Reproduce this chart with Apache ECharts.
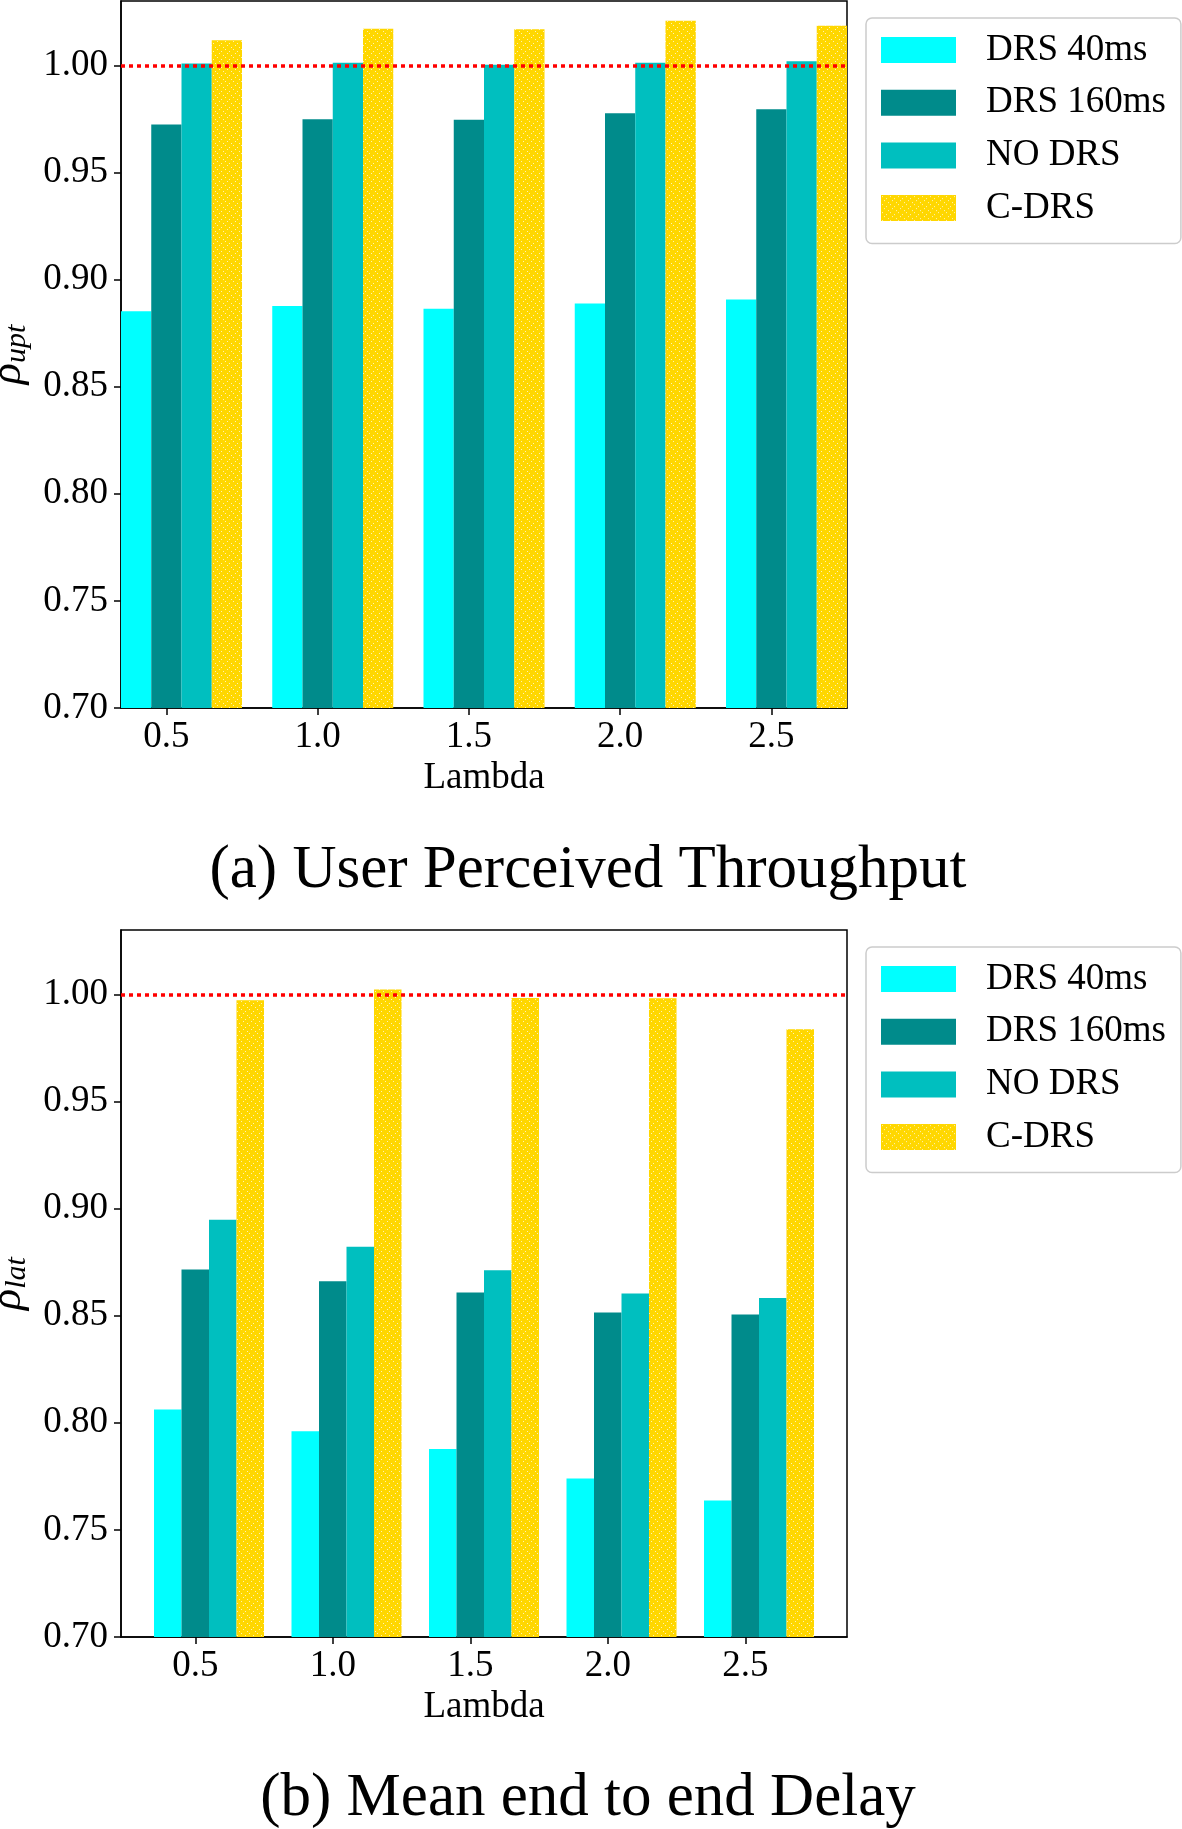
<!DOCTYPE html>
<html>
<head>
<meta charset="utf-8">
<script src="https://cdn.jsdelivr.net/npm/echarts@6/dist/echarts.min.js"></script>
<style>
html,body{margin:0;padding:0;background:#fff;}
#chart{width:1182px;height:1829px;}
</style>
</head>
<body>
<div id="chart"></div>
<script>
// ---- data ----
const lambdas = [0.5, 1.0, 1.5, 2.0, 2.5];
const xTicks = [0.5, 1.0, 1.5, 2.0, 2.5];
const yTicks = [0.70, 0.75, 0.80, 0.85, 0.90, 0.95, 1.00];
const seriesNames = ['DRS 40ms', 'DRS 160ms', 'NO DRS', 'C-DRS'];
const refLine = [1.0];

const uptDrs40  = [0.8852, 0.8876, 0.8863, 0.8888, 0.8907];
const uptDrs160 = [0.9723, 0.9748, 0.9746, 0.9776, 0.9795];
const uptNoDrs  = [1.0008, 1.0012, 1.0003, 1.0012, 1.0019];
const uptCDrs   = [1.0117, 1.0171, 1.0168, 1.0208, 1.0185];

const latDrs40  = [0.8062, 0.7960, 0.7877, 0.7740, 0.7637];
const latDrs160 = [0.8715, 0.8660, 0.8608, 0.8515, 0.8505];
const latNoDrs  = [0.8948, 0.8822, 0.8712, 0.8603, 0.8582];
const latCDrs   = [0.9972, 1.0022, 0.9983, 0.9982, 0.9837];

// ---- styling ----
const FONT = '"Liberation Serif", "Times New Roman", serif';
const pat = document.createElement('canvas');
pat.width = 8; pat.height = 8;
(function(){
  const c = pat.getContext('2d');
  c.fillStyle = '#FFD700'; c.fillRect(0,0,8,8);
  c.fillStyle = 'rgba(255,255,255,0.7)';
  [[1,1],[5,3],[3,5],[7,7]].forEach(p => c.fillRect(p[0],p[1],1,1));
})();
const colors = ['#00FFFF', '#008B8B', '#00BFBF', {image: pat, repeat: 'repeat'}];
const barOffsets = [-0.1, 0, 0.1, 0.2];
const barW = 0.1;
const Y_MIN = 0.70, Y_MAX = 1.03;

function renderFor(k) {
  return function (params, api) {
    const x = api.value(0), y = api.value(1);
    const c = x + barOffsets[k];
    const p0 = api.coord([c - barW / 2, y]);
    const p1 = api.coord([c + barW / 2, Y_MIN]);
    return {
      type: 'rect',
      shape: {x: p0[0], y: p0[1], width: p1[0] - p0[0], height: p1[1] - p0[1]},
      style: {fill: colors[k]}
    };
  };
}

const groups = [
  [uptDrs40, uptDrs160, uptNoDrs, uptCDrs],
  [latDrs40, latDrs160, latNoDrs, latCDrs]
];

const series = [];
groups.forEach((vals, g) => {
  vals.forEach((arr, k) => {
    const s = {
      name: seriesNames[k],
      type: 'custom',
      xAxisIndex: g, yAxisIndex: g,
      itemStyle: {color: colors[k]},
      renderItem: renderFor(k),
      data: lambdas.map((x, i) => [x, arr[i]])
    };
    if (k === 3) {
      s.markLine = {
        silent: true, symbol: 'none', animation: false,
        label: {show: false},
        lineStyle: {color: '#FF0000', type: [4, 4], width: 3.5, opacity: 1},
        data: refLine.map(v => ({yAxis: v}))
      };
    }
    series.push(s);
  });
});

const grids = [
  {left: 121, top: 1, width: 726, height: 707},
  {left: 121, top: 930, width: 726, height: 707}
];
grids.forEach(gr => {
  gr.show = true; gr.borderColor = '#000'; gr.borderWidth = 1.5;
  gr.backgroundColor = 'transparent'; gr.containLabel = false; gr.outerBoundsMode = 'none';
});

const xRanges = [[0.35, 2.75], [0.23, 2.87]];
const xAxes = xRanges.map((r, g) => ({
  type: 'value', gridIndex: g, min: r[0], max: r[1],
  name: 'Lambda', nameLocation: 'middle', nameGap: 52,
  nameTextStyle: {fontFamily: FONT, fontSize: 37, color: '#000'},
  axisLine: {show: true, lineStyle: {color: '#000', width: 1.5}},
  axisTick: {show: true, length: 7, lineStyle: {color: '#000', width: 1.5}, customValues: xTicks},
  axisLabel: {fontFamily: FONT, fontSize: 37, color: '#000', margin: 11, customValues: xTicks,
              formatter: v => Number(v).toFixed(1)},
  splitLine: {show: false}
}));

const yNames = [['\u03C1', 'upt'], ['\u03C1', 'lat']];
const yAxes = yNames.map((nm, g) => ({
  type: 'value', gridIndex: g, min: Y_MIN, max: Y_MAX,
  name: '{r|' + nm[0] + '}{s|' + nm[1] + '}', nameLocation: 'middle', nameGap: 67,
  nameTextStyle: {
    color: '#000',
    rich: {
      r: {fontFamily: FONT, fontStyle: 'italic', fontSize: 44, color: '#000', lineHeight: 44, verticalAlign: 'top'},
      s: {fontFamily: FONT, fontStyle: 'italic', fontSize: 30, color: '#000', lineHeight: 30, verticalAlign: 'top', padding: [16, 0, 0, 0]}
    }
  },
  axisLine: {show: true, lineStyle: {color: '#000', width: 1.5}},
  axisTick: {show: true, length: 7, lineStyle: {color: '#000', width: 1.5}, customValues: yTicks},
  axisLabel: {fontFamily: FONT, fontSize: 37, color: '#000', margin: 13, customValues: yTicks,
              formatter: v => Number(v).toFixed(2)},
  splitLine: {show: false}
}));

const legendBase = (top) => ({
  orient: 'vertical', left: 866, top: top,
  icon: 'rect', itemWidth: 75, itemHeight: 26, itemGap: 15.7,
  textStyle: {fontFamily: FONT, fontSize: 37, color: '#000', lineHeight: 37, padding: [0, 0, 0, 25]},
  backgroundColor: '#fff', borderColor: '#cccccc', borderWidth: 1.5, borderRadius: 6,
  padding: [13.5, 15, 17, 15],
  selectedMode: false,
  data: seriesNames
});

const chart = echarts.init(document.getElementById('chart'), null, {renderer: 'canvas'});
chart.setOption({
  animation: false,
  backgroundColor: '#fff',
  grid: grids,
  xAxis: xAxes,
  yAxis: yAxes,
  legend: [legendBase(18), legendBase(947)],
  series: series,
  graphic: [
    {type: 'text', x: 588, y: 871, style: {text: '(a) User Perceived Throughput', font: '61px ' + FONT, fill: '#000', align: 'center', verticalAlign: 'middle'}},
    {type: 'text', x: 588, y: 1799, style: {text: '(b) Mean end to end Delay', font: '61px ' + FONT, fill: '#000', align: 'center', verticalAlign: 'middle'}}
  ]
});
</script>
</body>
</html>
